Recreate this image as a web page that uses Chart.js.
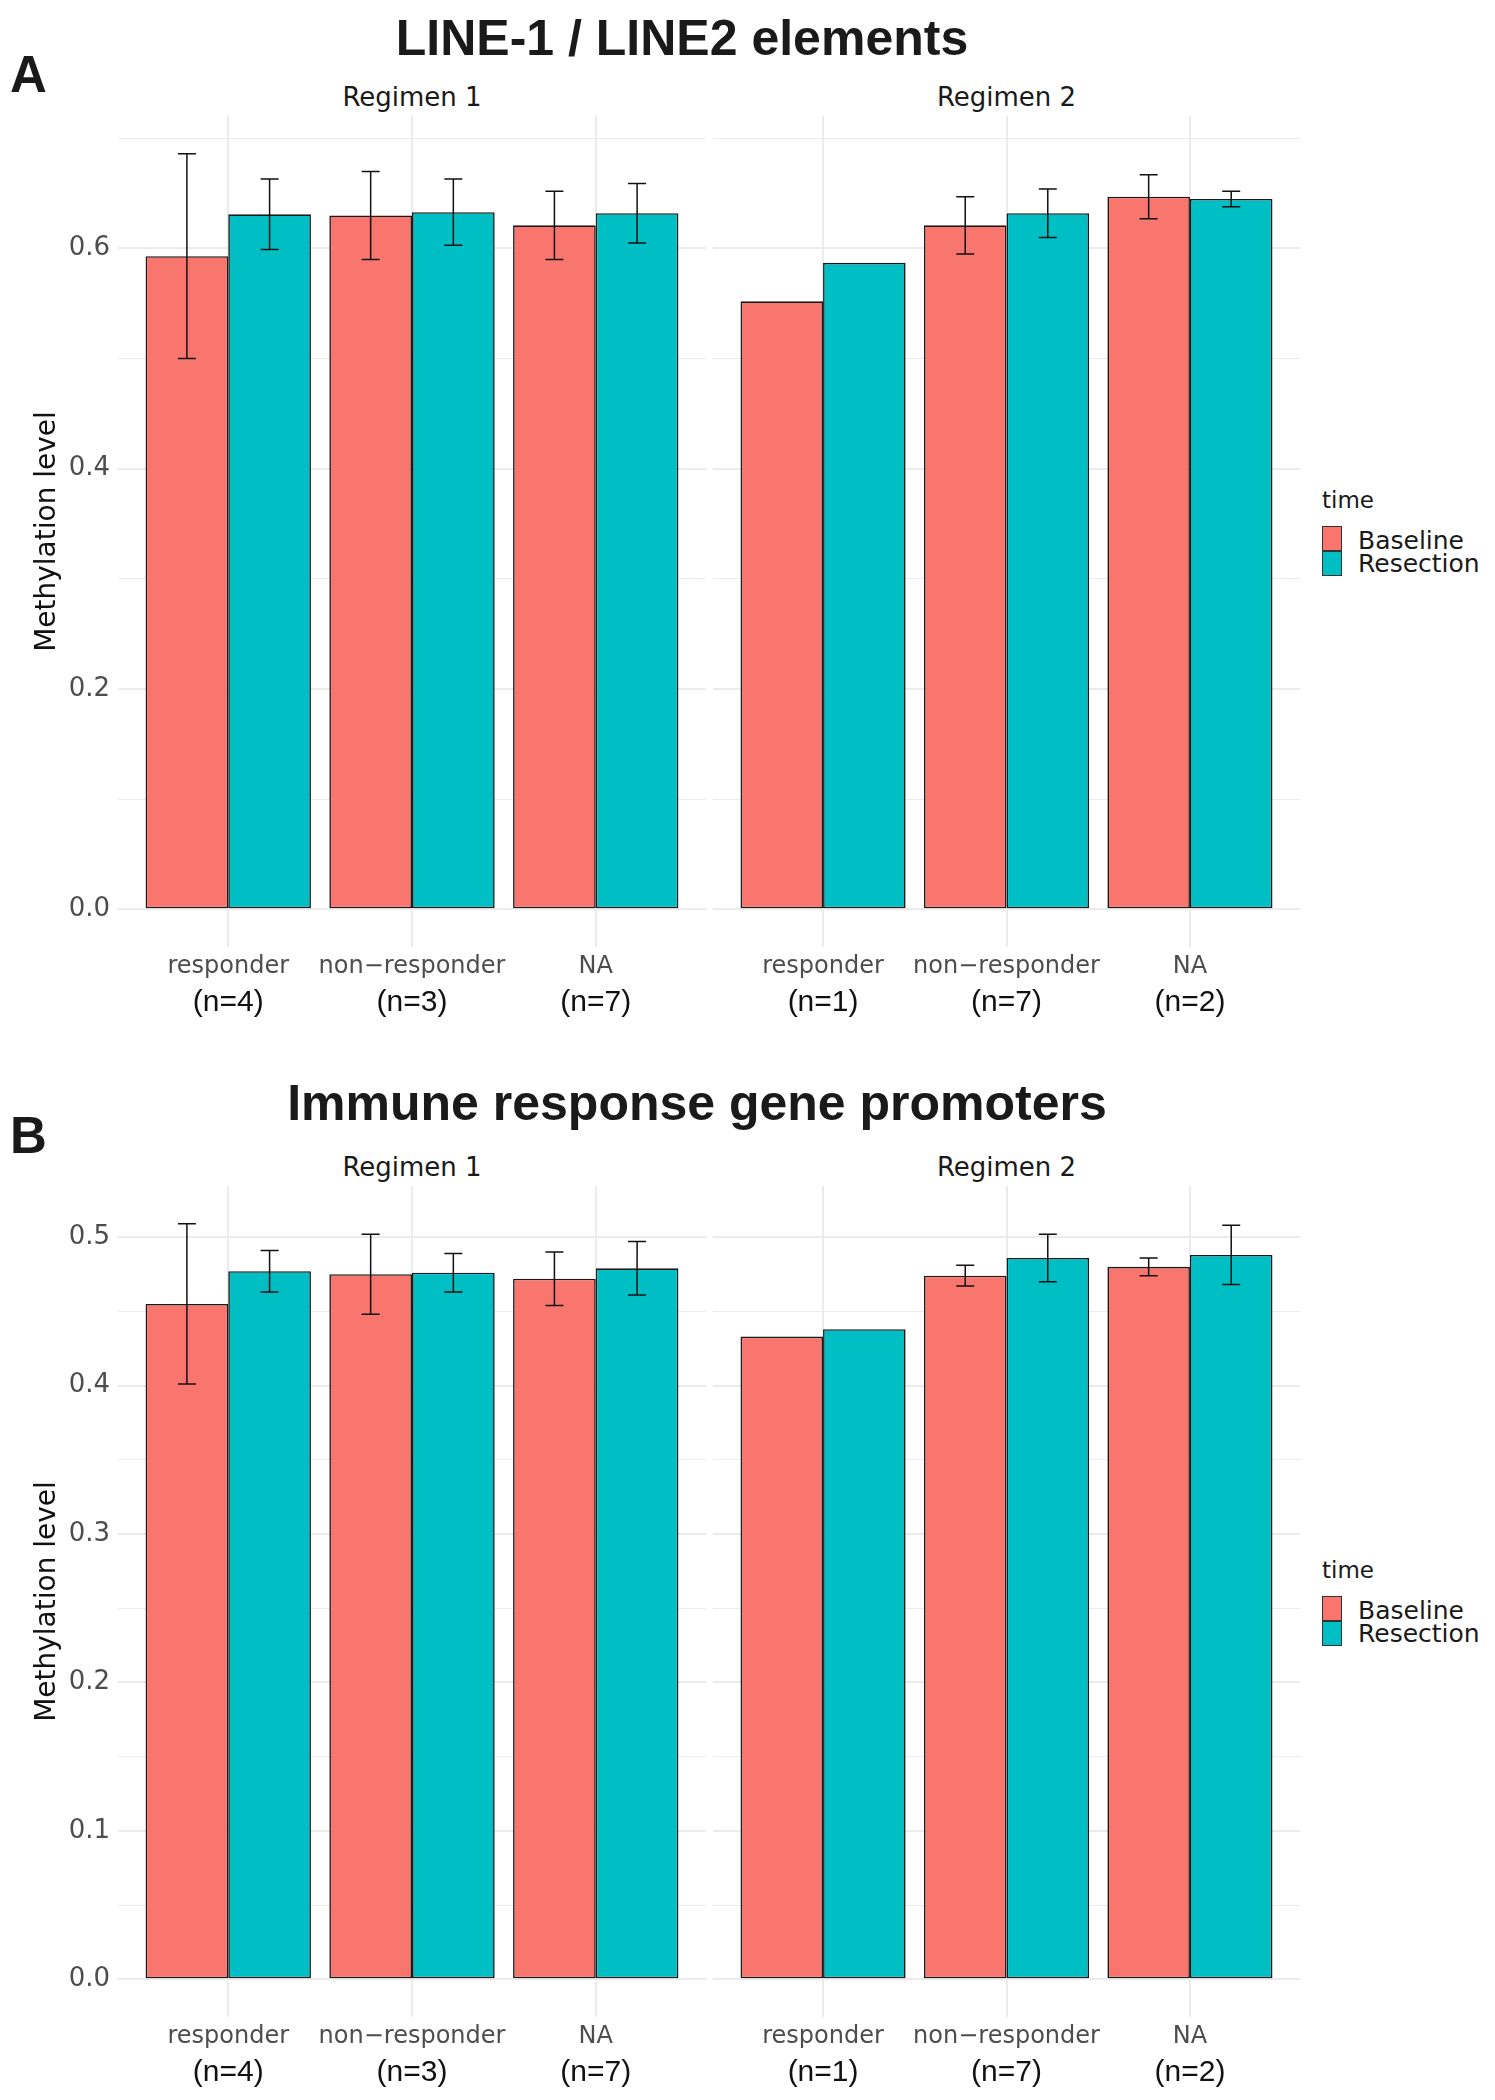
<!DOCTYPE html>
<html><head><meta charset="utf-8">
<script src="https://cdn.jsdelivr.net/npm/chart.js@4.4.1/dist/chart.umd.min.js"></script>
<style>
html,body{margin:0;padding:0;background:#fff;}
body{width:1495px;height:2100px;position:relative;overflow:hidden;font-family:'DejaVu Sans',sans-serif;}
.t{position:absolute;white-space:nowrap;line-height:1;}
.c{transform:translateX(-50%);}
.title{font-family:'Liberation Sans',Arial,sans-serif;font-weight:bold;font-size:50px;color:#1a1a1a;}
.tag{font-family:'Liberation Sans',Arial,sans-serif;font-weight:bold;font-size:51px;color:#1a1a1a;}
.strip{font-size:26px;color:#1a1a1a;}
.lgt{font-size:23px;color:#1a1a1a;}
.lgl{font-size:25px;color:#1a1a1a;}
.key{position:absolute;width:20px;height:25px;box-sizing:border-box;border:1.5px solid #333;}
canvas{position:absolute;display:block;}
</style></head><body>
<script>
// ---------- data ----------
const categories = ['responder', 'non\u2212responder', 'NA'];
const nLabelsReg1 = ['(n=4)', '(n=3)', '(n=7)'];
const nLabelsReg2 = ['(n=1)', '(n=7)', '(n=2)'];
const seriesNames = ['Baseline', 'Resection'];
const facetNames = ['Regimen 1', 'Regimen 2'];
const panelTitles = ['LINE-1 / LINE2 elements', 'Immune response gene promoters'];
const panelTags = ['A', 'B'];
const legendTitle = 'time';
const yAxisTitle = 'Methylation level';

// Panel A: LINE-1 / LINE2 elements
const lineReg1Baseline    = [0.593, 0.630, 0.621];
const lineReg1BaselineErr = [0.093, 0.040, 0.031];
const lineReg1Resection    = [0.631, 0.633, 0.632];
const lineReg1ResectionErr = [0.032, 0.030, 0.027];
const lineReg2Baseline    = [0.552, 0.621, 0.647];
const lineReg2BaselineErr = [null, 0.026, 0.020];
const lineReg2Resection    = [0.587, 0.632, 0.645];
const lineReg2ResectionErr = [null, 0.022, 0.007];

// Panel B: Immune response gene promoters
const immReg1Baseline    = [0.455, 0.475, 0.472];
const immReg1BaselineErr = [0.054, 0.027, 0.018];
const immReg1Resection    = [0.477, 0.476, 0.479];
const immReg1ResectionErr = [0.014, 0.013, 0.018];
const immReg2Baseline    = [0.433, 0.474, 0.480];
const immReg2BaselineErr = [null, 0.007, 0.006];
const immReg2Resection    = [0.438, 0.486, 0.488];
const immReg2ResectionErr = [null, 0.016, 0.020];

// y ticks
const yTicksA = [0, 0.1, 0.2, 0.3, 0.4, 0.5, 0.6, 0.7];
const yTickLabelsA = ['0.0', '', '0.2', '', '0.4', '', '0.6', ''];
const yTicksB = [0, 0.05, 0.1, 0.15, 0.2, 0.25, 0.3, 0.35, 0.4, 0.45, 0.5];
const yTickLabelsB = ['0.0', '', '0.1', '', '0.2', '', '0.3', '', '0.4', '', '0.5'];

// ---------- layout ----------
const PANEL_H = 831, XAX1_H = 34, XAX2_H = 50;
const FILL = ['#F8766D', '#00BFC4'];

const errorBarPlugin = {
  id: 'errorBars',
  afterDatasetsDraw(chart) {
    const ctx = chart.ctx, ys = chart.scales.y;
    ctx.save();
    ctx.strokeStyle = '#111';
    ctx.lineWidth = 1.5;
    chart.data.datasets.forEach((ds, di) => {
      const meta = chart.getDatasetMeta(di);
      meta.data.forEach((bar, i) => {
        const e = ds.errors[i];
        if (e == null) return;
        const v = ds.data[i].y;
        const yHi = ys.getPixelForValue(v + e), yLo = ys.getPixelForValue(v - e);
        const x = bar.x, h = 9;
        ctx.beginPath();
        ctx.moveTo(x, yHi); ctx.lineTo(x, yLo);
        ctx.moveTo(x - h, yHi); ctx.lineTo(x + h, yHi);
        ctx.moveTo(x - h, yLo); ctx.lineTo(x + h, yLo);
        ctx.stroke();
      });
    });
    ctx.restore();
  }
};

function addText(cls, text, left, top, center) {
  const d = document.createElement('div');
  d.className = 't ' + cls + (center ? ' c' : '');
  d.textContent = text;
  d.style.left = left + 'px';
  d.style.top = top + 'px';
  document.body.appendChild(d);
}

function noPad(s) { s.paddingTop = 0; s.paddingBottom = 0; s.paddingLeft = 0; s.paddingRight = 0; }

function buildFacet(cfg) {
  const cv = document.createElement('canvas');
  cv.width = cfg.width; cv.height = PANEL_H + XAX1_H + XAX2_H;
  cv.style.left = cfg.left + 'px'; cv.style.top = cfg.top + 'px';
  cv.style.width = cfg.width + 'px'; cv.style.height = cv.height + 'px';
  document.body.appendChild(cv);
  const pts = arr => arr.map((v, i) => ({x: i + 1, y: v}));
  const catTicks = s => { s.ticks = categories.map((c, i) => ({value: i + 1})); };
  new Chart(cv, {
    type: 'bar',
    data: {datasets: [
      {label: seriesNames[0], data: pts(cfg.base), errors: cfg.baseErr, backgroundColor: FILL[0]},
      {label: seriesNames[1], data: pts(cfg.res), errors: cfg.resErr, backgroundColor: FILL[1]}
    ]},
    options: {
      responsive: false, animation: false, devicePixelRatio: 1,
      layout: {padding: 0},
      plugins: {legend: {display: false}, tooltip: {enabled: false}, title: {display: false}},
      datasets: {bar: {categoryPercentage: 0.9, barPercentage: 1, borderSkipped: false,
                       borderWidth: 1.6, borderColor: '#1a1a1a'}},
      scales: {
        x: {type: 'linear', position: 'bottom', weight: 0, min: 0.4, max: 3.6, offset: false,
            afterBuildTicks: catTicks, afterFit: s => { s.height = XAX1_H; noPad(s); },
            grid: {display: true, offset: false, drawTicks: false, color: '#ebebeb', lineWidth: 2},
            border: {display: false},
            ticks: {autoSkip: false, maxRotation: 0, minRotation: 0, padding: 5, color: '#4d4d4d',
                    font: {family: 'DejaVu Sans', size: 24},
                    callback: v => categories[Math.round(v) - 1]}},
        x2: {type: 'linear', position: 'bottom', weight: 1, min: 0.4, max: 3.6, offset: false,
             afterBuildTicks: catTicks, afterFit: s => { s.height = XAX2_H; noPad(s); },
             grid: {display: false, offset: false, drawTicks: false}, border: {display: false},
             ticks: {autoSkip: false, maxRotation: 0, minRotation: 0, padding: 4, color: '#111',
                     font: {family: 'Liberation Sans', size: 30},
                     callback: v => cfg.nLabels[Math.round(v) - 1]}},
        y: {type: 'linear', min: cfg.yMin, max: cfg.yMax,
            afterBuildTicks: s => { s.ticks = cfg.yTicks.map(v => ({value: v})); },
            afterFit: s => { s.width = cfg.showY ? 118 : 0; noPad(s); },
            grid: {drawTicks: false, color: '#ebebeb', lineWidth: c => (cfg.yLabels[c.index] ? 2 : 1)},
            border: {display: false},
            ticks: {display: cfg.showY, padding: 8, color: '#4d4d4d',
                    font: {family: 'DejaVu Sans', size: 26},
                    callback: (v, i) => cfg.yLabels[i]},
            title: {display: cfg.showY, text: yAxisTitle, color: '#111',
                    font: {family: 'DejaVu Sans', size: 28}, padding: {top: 31, bottom: 0}}}
      }
    },
    plugins: [errorBarPlugin]
  });
}

function buildPanel(p) {
  const all = [];
  [[p.r1b, p.r1be], [p.r1r, p.r1re], [p.r2b, p.r2be], [p.r2r, p.r2re]].forEach(([v, e]) =>
    v.forEach((x, i) => all.push(x + (e[i] || 0))));
  const M = Math.max(...all);
  const yMin = -0.05 * M, yMax = 1.05 * M;
  const top = p.top;
  buildFacet({left: 0, top: top, width: 706, showY: true, base: p.r1b, baseErr: p.r1be,
              res: p.r1r, resErr: p.r1re, nLabels: nLabelsReg1, yTicks: p.yTicks, yLabels: p.yLabels, yMin, yMax});
  buildFacet({left: 713, top: top, width: 587, showY: false, base: p.r2b, baseErr: p.r2be,
              res: p.r2r, resErr: p.r2re, nLabels: nLabelsReg2, yTicks: p.yTicks, yLabels: p.yLabels, yMin, yMax});
  const off = top - 116;
  addText('title', p.title, p.titleCx, p.titleTop, true);
  addText('tag', p.tag, 10, p.tagTop, false);
  addText('strip', facetNames[0], 412, 84 + off, true);
  addText('strip', facetNames[1], 1006.5, 84 + off, true);
  addText('lgt', legendTitle, 1322, 489 + off, false);
  const k1 = document.createElement('div'); k1.className = 'key';
  k1.style.left = '1322px'; k1.style.top = (526 + off) + 'px'; k1.style.background = FILL[0];
  document.body.appendChild(k1);
  const k2 = document.createElement('div'); k2.className = 'key';
  k2.style.left = '1322px'; k2.style.top = (551 + off) + 'px'; k2.style.background = FILL[1];
  document.body.appendChild(k2);
  addText('lgl', seriesNames[0], 1358, 528 + off, false);
  addText('lgl', seriesNames[1], 1358, 550.5 + off, false);
}

buildPanel({top: 116, title: panelTitles[0], titleCx: 682, titleTop: 13, tag: panelTags[0], tagTop: 49,
  r1b: lineReg1Baseline, r1be: lineReg1BaselineErr, r1r: lineReg1Resection, r1re: lineReg1ResectionErr,
  r2b: lineReg2Baseline, r2be: lineReg2BaselineErr, r2r: lineReg2Resection, r2re: lineReg2ResectionErr,
  yTicks: yTicksA, yLabels: yTickLabelsA});
buildPanel({top: 1186, title: panelTitles[1], titleCx: 697, titleTop: 1078, tag: panelTags[1], tagTop: 1110,
  r1b: immReg1Baseline, r1be: immReg1BaselineErr, r1r: immReg1Resection, r1re: immReg1ResectionErr,
  r2b: immReg2Baseline, r2be: immReg2BaselineErr, r2r: immReg2Resection, r2re: immReg2ResectionErr,
  yTicks: yTicksB, yLabels: yTickLabelsB});
</script>
</body></html>
